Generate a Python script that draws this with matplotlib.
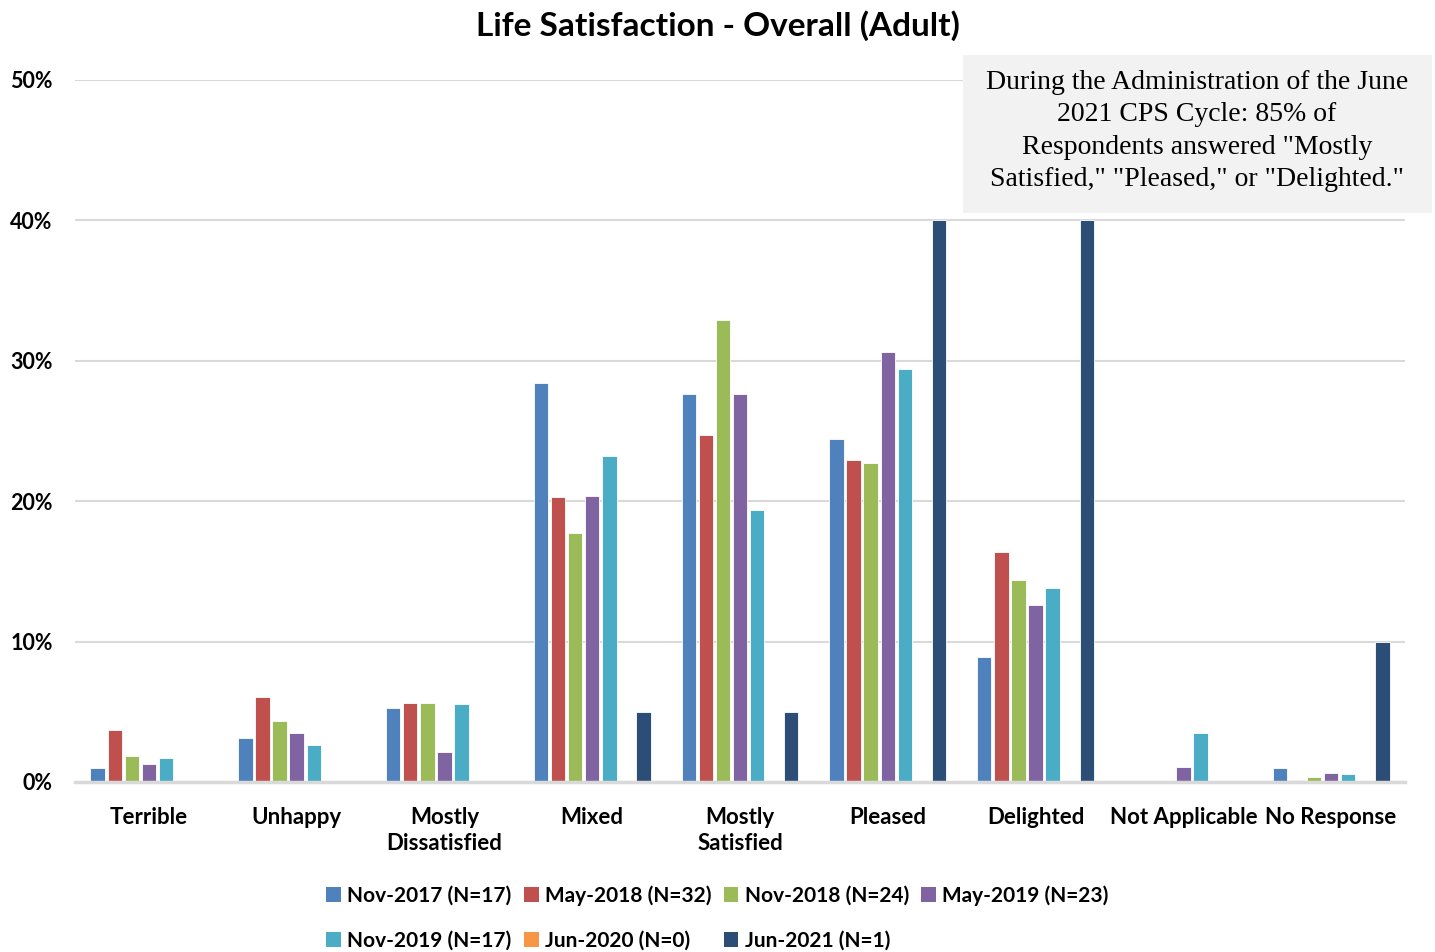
import numpy as np
import matplotlib.pyplot as plt
from matplotlib.patches import Patch, Rectangle

plt.rcParams['font.family'] = ['Lato', 'DejaVu Sans']

categories = ['Terrible', 'Unhappy', 'Mostly\nDissatisfied', 'Mixed', 'Mostly\nSatisfied',
              'Pleased', 'Delighted', 'Not Applicable', 'No Response']
series_names = ['Nov-2017 (N=17)', 'May-2018 (N=32)', 'Nov-2018 (N=24)', 'May-2019 (N=23)',
                'Nov-2019 (N=17)', 'Jun-2020 (N=0)', 'Jun-2021 (N=1)']
colors = ['#4f81bd', '#c0504d', '#9bbb59', '#8064a2', '#4bacc6', '#f79646', '#2c4d75']

nov_2017 = [1.0, 3.1, 5.3, 28.4, 27.6, 24.4, 8.9, 0.0, 1.0]
may_2018 = [3.7, 6.05, 5.6, 20.3, 24.7, 22.9, 16.4, 0.0, 0.15]
nov_2018 = [1.85, 4.35, 5.6, 17.7, 32.9, 22.7, 14.4, 0.0, 0.35]
may_2019 = [1.3, 3.5, 2.15, 20.4, 27.6, 30.6, 12.6, 1.1, 0.65]
nov_2019 = [1.7, 2.6, 5.55, 23.2, 19.4, 29.4, 13.8, 3.5, 0.6]
jun_2020 = [0, 0, 0, 0, 0, 0, 0, 0, 0]
jun_2021 = [0, 0, 0, 5, 5, 40, 40, 0, 10]
values = [nov_2017, may_2018, nov_2018, may_2019, nov_2019, jun_2020, jun_2021]

note = ('During the Administration of the June\n2021 CPS Cycle: 85% of\n'
        'Respondents answered "Mostly\nSatisfied," "Pleased," or "Delighted."')

W, H = 1435, 952
fig = plt.figure(figsize=(W / 100, H / 100), dpi=100)
ax = fig.add_axes([75 / W, 1 - 782 / H, 1330 / W, 702 / H])

x = np.arange(len(categories))
n = len(values)
slot = 0.81 / n
for i, (vals, c) in enumerate(zip(values, colors)):
    pos = x - 0.405 + slot * (i + 0.5)
    ax.bar(pos, vals, width=slot * 0.84, color=c, edgecolor='white', linewidth=0.6, zorder=3)

ax.set_xlim(-0.5, len(categories) - 0.5)
ax.set_ylim(0, 50)
ax.set_yticks(np.arange(0, 51, 10))
ax.set_yticklabels([f'{v}%' for v in range(0, 51, 10)], fontsize=15.5, fontweight='bold')
ax.set_xticks(x)
ax.set_xticklabels(categories, fontsize=16, fontweight='bold', va='top', linespacing=1.3)
ax.tick_params(axis='x', length=0, pad=18)
ax.tick_params(axis='y', length=0, pad=16)
ax.grid(axis='y', color='#d9d9d9', linewidth=1.5, zorder=0)
for s in ['top', 'right', 'left']:
    ax.spines[s].set_visible(False)
ax.spines['bottom'].set_color('#d9d9d9')
ax.spines['bottom'].set_linewidth(2.5)
ax.spines['bottom'].set_zorder(4)

fig.text(0.5, 1 - 26 / H, 'Life Satisfaction - Overall (Adult)', ha='center', va='center',
         fontsize=24, fontweight='bold')

# note box
fig.patches.append(Rectangle((963 / W, 1 - 213 / H), 469 / W, 158 / H,
                             transform=fig.transFigure, facecolor='#f2f2f2',
                             edgecolor='none', zorder=9))
fig.text(1197 / W, 1 - 131 / H, note, ha='center', va='center', fontsize=20,
         family=['Liberation Serif'], linespacing=1.38, zorder=10)

# legend: reorder so rows read left to right
handles = [Patch(facecolor=c) for c in colors]
order = [0, 4, 1, 5, 2, 6, 3]
fig.legend([handles[i] for i in order], [series_names[i] for i in order],
           loc='center', bbox_to_anchor=(0.5, 1 - 918 / H), ncol=4, frameon=False,
           prop={'size': 15, 'weight': 'bold'}, handlelength=0.7, handleheight=0.7,
           handletextpad=0.3, columnspacing=0.6, labelspacing=1.2)

plt.savefig('out.png', dpi=100)
plt.close()
